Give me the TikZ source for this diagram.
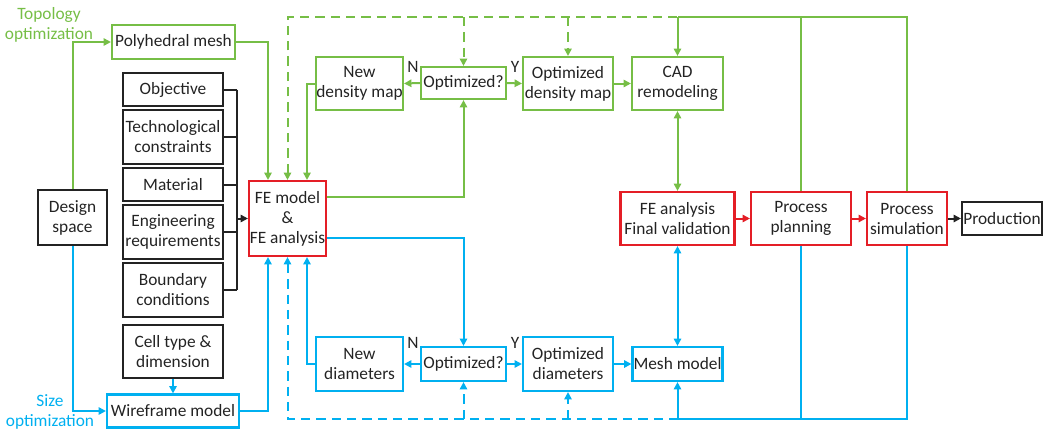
\documentclass[tikz,border=0pt]{standalone}
\usepackage{fontspec}
\setmainfont{Carlito}
\usetikzlibrary{arrows.meta,calc}
\definecolor{cg}{RGB}{118,190,70}
\definecolor{cb}{RGB}{0,176,240}
\definecolor{cr}{RGB}{228,30,38}
\definecolor{ck}{RGB}{35,35,35}
\begin{document}
\begin{tikzpicture}[x=0.75pt,y=-0.75pt,
  font=\fontsize{13}{15}\selectfont,
  bx/.style 2 args={draw, line width=1.6pt, minimum width=#1*0.75pt, minimum height=#2*0.75pt, inner sep=0pt, align=center, text=ck},
  gbox/.style={draw=cg},
  bbox/.style={draw=cb},
  rbox/.style={draw=cr},
  kbox/.style={draw=ck},
  tip/.style={-{Triangle[length=5.5pt,width=5.5pt]}},
  dtip/.style={{Triangle[length=5.5pt,width=5.5pt]}-{Triangle[length=5.5pt,width=5.5pt]}},
  ln/.style={line width=1.5pt},
  gl/.style={ln, draw=cg},
  bl/.style={ln, draw=cb},
  rl/.style={ln, draw=cr},
  kl/.style={ln, draw=ck},
  dsh/.style={dash pattern=on 7pt off 4.5pt},
]
\useasboundingbox (0,0) rectangle (1048,429);

% labels
\node[text=cg, align=center] (topo) at (49,25) {Topology\\optimization};
\node[text=cb, align=center] (sizeo) at (50,412) {Size\\optimization};

% left column
\node[bx={123}{34}, gbox] (poly) at (173.5,42) {Polyhedral mesh};
\node[bx={100}{33}, kbox] (obj) at (173,89.5) {Objective};
\node[bx={100}{54}, kbox] (tech) at (173,137) {Technological\\constraints};
\node[bx={100}{33}, kbox] (mat) at (173,184.5) {Material};
\node[bx={100}{54}, kbox] (eng) at (173,232) {Engineering\\requirements};
\node[bx={100}{54}, kbox] (bnd) at (173,290) {Boundary\\conditions};
\node[bx={100}{53}, kbox] (cell) at (173,351.5) {Cell type \&\\dimension};
\node[bx={132}{33}, bbox] (wire) at (173,411) {Wireframe model};
\node[bx={69}{55}, kbox] (design) at (72.5,217.5) {Design\\space};
\node[bx={77}{75}, rbox] (fe) at (287.5,218.5) {FE model\\\&\\FE analysis};

% top loop
\node[bx={87}{53}, gbox] (newdm) at (359.5,83.5) {New\\density map};
\node[bx={85}{32}, gbox] (optq) at (463.5,83) {Optimized?};
\node[bx={90}{53}, gbox] (optdm) at (568,83.5) {Optimized\\density map};
\node[bx={91}{53}, gbox] (cad) at (677.5,83.5) {CAD\\remodeling};

% bottom loop
\node[bx={87}{54}, bbox] (newdia) at (359.5,364) {New\\diameters};
\node[bx={85}{34}, bbox] (optqb) at (463.5,364) {Optimized?};
\node[bx={90}{54}, bbox] (optdia) at (568,364) {Optimized\\diameters};
\node[bx={90}{34}, bbox] (mesh) at (677.5,364) {Mesh model};

% right row
\node[bx={114}{53}, rbox] (feval) at (677.5,218.5) {FE analysis\\Final validation};
\node[bx={100}{53}, rbox] (plan) at (801,218.5) {Process\\planning};
\node[bx={80}{53}, rbox] (sim) at (907,218.5) {Process\\simulation};
\node[bx={80}{33}, kbox] (prod) at (1002,218.5) {Production};

% N / Y labels
\node[text=ck] (n1) at (413,67) {N};
\node[text=ck] (y1) at (515,67) {Y};
\node[text=ck] (n2) at (413,343) {N};
\node[text=ck] (y2) at (515,343) {Y};

\coordinate (top) at (0,17);
\coordinate (bot) at (0,419);
\coordinate (brx) at (237,0);

% black bracket
\draw[kl] (obj.east) -- (obj.east -| brx);
\draw[kl] (tech.east) -- (tech.east -| brx);
\draw[kl] (mat.east) -- (mat.east -| brx);
\draw[kl] (eng.east) -- (eng.east -| brx);
\draw[kl] (bnd.east) -- (bnd.east -| brx);
\draw[kl] (obj.east -| brx) -- (bnd.east -| brx);
\draw[kl, tip] (fe.west -| brx) -- (fe.west);

% green connectors
\draw[gl, tip] (design.north) |- (poly.west);
\draw[gl, tip] (poly.east) -| ($(fe.north)+(-19.5,0)$);
\draw[gl, tip] (newdm.west) -| ($(fe.north)+(19.5,0)$);
\draw[gl, tip] ($(fe.east)+(0,-21.5)$) -| (optq.south);
\draw[gl, tip] (optq.west) -- (newdm.east);
\draw[gl, tip] (optq.east) -- (optdm.west);
\draw[gl, tip] (optdm.east) -- (cad.west);
\draw[gl, dtip] (cad.south) -- (feval.north);
\draw[gl, dsh, {Triangle[length=5.5pt,width=5.5pt]}-] (fe.north) |- (cad.north |- top);
\draw[gl, dsh, tip] (optq.north |- top) -- (optq.north);
\draw[gl, dsh, tip] (optdm.north |- top) -- (optdm.north);
\draw[gl] (sim.north) |- (cad.north |- top);
\draw[gl] (plan.north) -- (plan.north |- top);
\draw[gl, tip] (cad.north |- top) -- (cad.north);

% blue connectors
\draw[bl, tip] (design.south) |- (wire.west);
\draw[bl, tip] (cell.south) -- (wire.north);
\draw[bl, tip] (wire.east) -| ($(fe.south)+(-19.5,0)$);
\draw[bl, tip] (newdia.west) -| ($(fe.south)+(19.5,0)$);
\draw[bl, tip] ($(fe.east)+(0,19.5)$) -| (optqb.north);
\draw[bl, tip] (optqb.west) -- (newdia.east);
\draw[bl, tip] (optqb.east) -- (optdia.west);
\draw[bl, tip] (optdia.east) -- (mesh.west);
\draw[bl, dtip] (mesh.north) -- (feval.south);
\draw[bl, dsh, {Triangle[length=5.5pt,width=5.5pt]}-] (fe.south) |- (mesh.south |- bot);
\draw[bl, dsh, tip] (optqb.south |- bot) -- (optqb.south);
\draw[bl, dsh, tip] (optdia.south |- bot) -- (optdia.south);
\draw[bl] (sim.south) |- (mesh.south |- bot);
\draw[bl] (plan.south) -- (plan.south |- bot);
\draw[bl, tip] (mesh.south |- bot) -- (mesh.south);

% red / black row
\draw[rl, tip] (feval.east) -- (plan.west);
\draw[rl, tip] (plan.east) -- (sim.west);
\draw[kl, tip] (sim.east) -- (prod.west);
\end{tikzpicture}
\end{document}
